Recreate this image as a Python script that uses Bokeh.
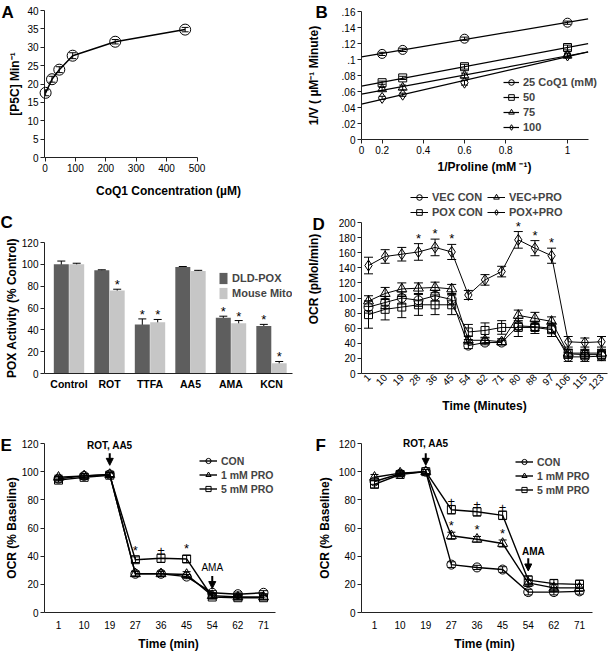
import math
import numpy as np
from bokeh.plotting import figure
from bokeh.layouts import column, row
from bokeh.models import (ColumnDataSource, Whisker, TeeHead, Legend, LegendItem,
                          Arrow, NormalHead, FixedTicker, Range1d)
from bokeh.embed import file_html
from bokeh.resources import INLINE
from bokeh.core.properties import value

FONT = "Liberation Sans"

# ---------------- data ----------------
# Panel A
a_conc = [2, 23, 47, 91, 231, 461]
a_rate = [17.6, 21.3, 23.9, 27.7, 31.5, 34.8]
a_err = [0.8, 0.8, 0.8, 0.8, 0.6, 0.6]
a_xticks = [0, 100, 200, 300, 400, 500]
a_yticks = [0, 5, 10, 15, 20, 25, 30, 35, 40]

# Panel B
b_inv_pro = [0.1, 0.2, 0.5, 1.0]
b_names = ["25 CoQ1 (mM)", "50", "75", "100"]
b_25 = [0.107, 0.112, 0.126, 0.146]
b_50 = [0.071, 0.077, 0.091, 0.115]
b_75 = [0.063, 0.065, 0.080, 0.105]
b_100 = [0.052, 0.056, 0.071, 0.105]
b_err_25 = [0.002, 0.002, 0.002, 0.002]
b_err_50 = [0.002, 0.002, 0.003, 0.003]
b_err_75 = [0.002, 0.003, 0.003, 0.003]
b_err_100 = [0.002, 0.002, 0.003, 0.002]
b_xtick_pos = [0, 0.1, 0.3, 0.5, 0.7, 1.0]
b_xtick_lab = ["0", "0.2", "0.4", "0.6", "0.8", "1"]
b_ytick_pos = [0, 0.02, 0.04, 0.06, 0.08, 0.10, 0.12, 0.14, 0.16]
b_ytick_lab = ["0", ".02", ".04", ".06", ".08", ".1", ".12", ".14", ".16"]

# Panel C
c_cats = ["Control", "ROT", "TTFA", "AA5", "AMA", "KCN"]
c_dld = [100, 94.5, 45, 97.5, 51, 43.5]
c_dld_err = [3, 0.5, 5, 0.5, 1.5, 1.5]
c_dld_sig = ["", "", "*", "", "*", "*"]
c_mito = [100, 76, 47, 94, 46, 9.5]
c_mito_err = [1, 1.2, 2.5, 0.5, 2.5, 1.5]
c_mito_sig = ["", "*", "*", "", "*", "*"]
c_yticks = [0, 20, 40, 60, 80, 100, 120]

# Panel D
d_times = ["1", "10", "19", "28", "36", "45", "54", "62", "71", "80", "88", "97", "106", "115", "123"]
d_vec_con = [88, 94, 100, 97, 103, 98, 37, 41, 41, 63, 62, 60, 22, 22, 23]
d_vec_con_err = [8, 8, 8, 8, 7, 7, 4, 3, 3, 5, 5, 6, 6, 6, 6]
d_vec_pro = [96, 106, 112, 113, 114, 112, 44, 44, 42, 77, 73, 69, 27, 27, 27]
d_vec_pro_err = [7, 8, 8, 7, 7, 6, 5, 4, 4, 7, 8, 6, 5, 5, 5]
d_pox_con = [78, 85, 88, 91, 91, 91, 55, 57, 61, 61, 61, 58, 26, 25, 25]
d_pox_con_err = [18, 14, 14, 14, 13, 13, 10, 10, 9, 12, 8, 9, 6, 6, 6]
d_pox_pro = [143, 155, 158, 161, 167, 161, 104, 124, 135, 177, 166, 156, 42, 41, 42]
d_pox_pro_err = [11, 9, 9, 11, 11, 10, 6, 7, 7, 11, 10, 10, 7, 6, 7]
d_sig = ["", "", "", "*", "*", "*", "", "", "", "*", "*", "*", "", "", ""]
d_yticks = [0, 20, 40, 60, 80, 100, 120, 140, 160, 180, 200]

# Panel E
e_times = ["1", "10", "19", "27", "36", "45", "54", "62", "71"]
e_con = [95, 97, 98, 27.5, 27.5, 25.5, 14, 13, 14]
e_con_err = [1.5, 1.5, 1.5, 1.5, 1.5, 1.5, 1.5, 1.5, 1.5]
e_1mm = [96, 97, 98, 27.5, 27.5, 27, 12, 11, 11]
e_1mm_err = [1.5, 1.5, 1.5, 2, 2, 2, 1.5, 1.5, 1.5]
e_5mm = [94, 96, 97.5, 37.5, 38.5, 38, 11, 10.5, 10.5]
e_5mm_err = [1.5, 1.5, 1.5, 2, 3, 2.5, 1.5, 1.5, 1.5]
e_sig = ["", "", "", "*", "+", "*", "", "", ""]

# Panel F
f_times = ["1", "10", "19", "27", "36", "45", "54", "62", "71"]
f_con = [93, 98.5, 100, 34, 32, 30.5, 14.5, 14.5, 15]
f_con_err = [2, 1.5, 1.5, 2, 1.5, 2, 2, 2, 2]
f_1mm = [96, 99, 100, 54.5, 52, 49, 21, 17.5, 17.5]
f_1mm_err = [2, 1.5, 1.5, 2.5, 2, 2.5, 2.5, 2.5, 2.5]
f_5mm = [91, 98, 100, 73, 71.5, 69, 23, 20.5, 20]
f_5mm_err = [2.5, 1.5, 1.5, 3, 3, 3, 3, 3, 3]
f_sig_1mm = ["", "", "", "*", "*", "*", "", "", ""]
f_sig_5mm = ["", "", "", "+", "+", "+", "", "", ""]
ef_yticks = [0, 20, 40, 60, 80, 100, 120]


# ---------------- helpers ----------------
def mk(w, h, lb, rb, tb, bb, xr, yr):
    p = figure(width=w, height=h, x_range=xr, y_range=yr, output_backend="svg",
               toolbar_location=None, min_border_left=lb, min_border_right=rb,
               min_border_top=tb, min_border_bottom=bb)
    p.outline_line_color = None
    p.grid.visible = False
    p.background_fill_color = "white"
    p.border_fill_color = "white"
    for ax in list(p.xaxis) + list(p.yaxis):
        ax.axis_line_color = "#222222"
        ax.major_tick_line_color = "#222222"
        ax.minor_tick_line_color = None
        ax.major_tick_out = 4
        ax.major_tick_in = 0
        ax.major_label_text_font = FONT
        ax.major_label_text_font_size = "10px"
        ax.major_label_text_color = "black"
        ax.major_label_standoff = 2
        ax.axis_label_text_font = FONT
        ax.axis_label_text_font_style = "bold"
        ax.axis_label_text_font_size = "12px"
        ax.axis_label_text_color = "black"
        ax.axis_label_standoff = 3
    p._geo = (lb, tb, w - lb - rb, h - tb - bb)
    return p


def to_data(p, fx, fy):
    lb, tb, fw, fh = p._geo
    xr, yr = p.x_range, p.y_range
    x = xr.start + (fx - lb) * (xr.end - xr.start) / fw
    y = yr.end - (fy - tb) * (yr.end - yr.start) / fh
    return x, y


def free_text(p, x, y, t, size="10px", bold=True, align="center", baseline="middle"):
    p.text([x], [y], text=[t], text_font=value(FONT), text_font_size=size,
           text_font_style="bold" if bold else "normal", text_align=align,
           text_baseline=baseline, text_color="black", level="overlay")


def letter(p, ch, fx, fy):
    x, y = to_data(p, fx, fy)
    free_text(p, x, y, ch, size="17px", align="left", baseline="top")


def whisk(p, xs, ys, errs, cap=8, lw=1):
    src = ColumnDataSource(dict(x=xs, lo=[y - e for y, e in zip(ys, errs)],
                                hi=[y + e for y, e in zip(ys, errs)]))
    p.add_layout(Whisker(source=src, base="x", upper="hi", lower="lo", line_color="black",
                         line_width=lw,
                         upper_head=TeeHead(size=cap, line_color="black", line_width=lw),
                         lower_head=TeeHead(size=cap, line_color="black", line_width=lw)))


def series(p, xs, ys, errs, marker, size, lw=1.2, cap=8):
    whisk(p, xs, ys, errs, cap=cap)
    l = p.line(xs, ys, line_color="black", line_width=lw)
    m = p.scatter(xs, ys, marker=marker, size=size, fill_color=None,
                  line_color="black", line_width=1)
    return [l, m]


def marks(p, xs, tops, labels, size="13px", yoff=0):
    xx, yy, tt = [], [], []
    for x, t, s in zip(xs, tops, labels):
        if s:
            xx.append(x); yy.append(t); tt.append(s)
    p.text(xx, yy, text=tt, text_font=value(FONT), text_font_size=size,
           text_align="center", text_baseline="bottom", text_color="black",
           y_offset=yoff, level="overlay")


def legend(items, top_from_frame_top, fx, p, gw=20, gh=14, spacing=1, standoff=4,
           size="11px"):
    lb, tb, fw, fh = p._geo
    n = len(items)
    height = n * gh + (n - 1) * spacing
    lg = Legend(items=items, location=(fx, fh - top_from_frame_top - height),
                orientation="vertical")
    lg.border_line_color = None
    lg.background_fill_alpha = 0
    lg.padding = 0
    lg.margin = 0
    lg.spacing = int(spacing)
    lg.glyph_width = gw
    lg.glyph_height = gh
    lg.label_height = gh
    lg.label_standoff = standoff
    lg.label_text_font = FONT
    lg.label_text_font_size = size
    lg.label_text_font_style = "bold"
    p.add_layout(lg)


def arrow(p, x, y0, y1):
    p.add_layout(Arrow(end=NormalHead(size=7, fill_color="black", line_color="black"),
                       x_start=x, y_start=y0, x_end=x, y_end=y1, line_width=2,
                       line_color="black"))


# layout geometry (left column 300 px, right column 310 px)
LB_L, RB_L = 44, 8
LB_R, RB_R = 61, 3

# ---------------- Panel A ----------------
a_ppu = (196 - 44) / 500
a_x0 = -(44.5 - LB_L) / a_ppu
pA = mk(300, 200, LB_L, RB_L, 10, 42,
        Range1d(a_x0, a_x0 + (300 - LB_L - RB_L) / a_ppu), Range1d(0, 40))
pA.xaxis.ticker = FixedTicker(ticks=a_xticks)
pA.xaxis.bounds = (a_x0, a_xticks[-1])
pA.yaxis.ticker = FixedTicker(ticks=a_yticks)
pA.xaxis.axis_label = "CoQ1 Concentration (µM)"
pA.yaxis.axis_label = "[P5C] Min⁻¹"
pA.xaxis.axis_label_standoff = 9
pA.yaxis.axis_label_standoff = 2
whisk(pA, a_conc, a_rate, a_err, cap=7)
pA.line(a_conc, a_rate, line_color="black", line_width=1.5)
pA.scatter(a_conc, a_rate, marker="circle", size=11, fill_color=None, line_color="black",
           level="overlay")
letter(pA, "A", 1, 2)

# ---------------- Panel B ----------------
b_ppu = 567 - 361
pB = mk(310, 178, LB_R, RB_R, 11, 39,
        Range1d(0, (310 - LB_R - RB_R) / b_ppu), Range1d(0, 0.16))
pB.xaxis.ticker = FixedTicker(ticks=b_xtick_pos)
pB.xaxis.major_label_overrides = dict(zip(b_xtick_pos, b_xtick_lab))
pB.xaxis.bounds = (0, 1.1)
pB.yaxis.ticker = FixedTicker(ticks=b_ytick_pos)
pB.yaxis.major_label_overrides = dict(zip(b_ytick_pos, b_ytick_lab))
pB.xaxis.axis_label = "1/Proline (mM ⁻¹)"
pB.yaxis.axis_label = "1/V ( µM⁻¹ Minute)"
pB.yaxis.axis_label_standoff = 18
b_items = []
x_fit = [0, 1.1]
for name, ys, es, mk_ in zip(b_names, [b_25, b_50, b_75, b_100],
                             [b_err_25, b_err_50, b_err_75, b_err_100],
                             ["circle", "square", "triangle", "diamond"]):
    coef = np.polyfit(b_inv_pro, ys, 1)
    lr = pB.line(x_fit, list(np.polyval(coef, x_fit)), line_color="black", line_width=1.2)
    whisk(pB, b_inv_pro, ys, es, cap=7)
    sz = {"circle": 9, "square": 8, "triangle": 9, "diamond": 11}[mk_]
    mr = pB.scatter(b_inv_pro, ys, marker=mk_, size=sz, fill_color=None, line_color="black")
    b_items.append(LegendItem(label=name, renderers=[lr, mr]))
legend(b_items, 64, 142, pB, gw=16, gh=14, spacing=1)
letter(pB, "B", 15, 2)

# ---------------- Panel C ----------------
c_ppu = 40.5
c_x0 = -(68.5 - LB_L) / c_ppu
pC = mk(300, 220, LB_L, RB_L, 42, 47,
        Range1d(c_x0, c_x0 + (300 - LB_L - RB_L) / c_ppu), Range1d(0, 120))
c_x = list(range(len(c_cats)))
pC.xaxis.ticker = FixedTicker(ticks=c_x)
pC.xaxis.major_label_overrides = dict(zip(c_x, c_cats))
pC.xaxis.major_tick_out = 0
pC.xaxis.major_label_text_font_style = "bold"
pC.xaxis.major_label_text_font_size = "10.5px"
pC.xaxis.major_label_standoff = 4
pC.yaxis.ticker = FixedTicker(ticks=c_yticks)
pC.yaxis.axis_label = "POX Activity (% Control)"
pC.yaxis.axis_label_standoff = 0
xd = [i - 0.19 for i in c_x]
xm = [i + 0.19 for i in c_x]
rd = pC.vbar(x=xd, top=c_dld, width=0.37, fill_color="#5e5e5e", line_color=None)
rm = pC.vbar(x=xm, top=c_mito, width=0.37, fill_color="#c6c6c6", line_color=None)
whisk(pC, xd, c_dld, c_dld_err, cap=8)
whisk(pC, xm, c_mito, c_mito_err, cap=8)
marks(pC, xd, [v + e for v, e in zip(c_dld, c_dld_err)], c_dld_sig, yoff=3)
marks(pC, xm, [v + e for v, e in zip(c_mito, c_mito_err)], c_mito_sig, yoff=3)
legend([LegendItem(label="DLD-POX", renderers=[rd]),
        LegendItem(label="Mouse Mito", renderers=[rm])], 29, 218 - LB_L, pC, gw=10, gh=14,
       spacing=1)
letter(pC, "C", 0, 12)

# ---------------- Panel D ----------------
d_ppu = (601 - 368) / 14
d_x0 = -(368 - 361) / d_ppu
d_yppu = (373 - 222) / 200
d_top = 6
pD = mk(310, 242, LB_R, RB_R, d_top, 47,
        Range1d(d_x0, d_x0 + (310 - LB_R - RB_R) / d_ppu),
        Range1d(0, 200 + ((222 - 178) - d_top) / d_yppu))
d_x = list(range(len(d_times)))
pD.xaxis.ticker = FixedTicker(ticks=d_x)
pD.xaxis.major_label_overrides = dict(zip(d_x, d_times))
pD.xaxis.major_label_orientation = math.pi / 4
pD.xaxis.major_tick_out = 0
pD.yaxis.ticker = FixedTicker(ticks=d_yticks)
pD.yaxis.bounds = (0, 200)
pD.xaxis.axis_label = "Time (Minutes)"
pD.yaxis.axis_label = "OCR (pMol/min)"
pD.yaxis.axis_label_standoff = 15
r_vc = series(pD, d_x, d_vec_con, d_vec_con_err, "circle", 9, lw=1, cap=9)
r_vp = series(pD, d_x, d_vec_pro, d_vec_pro_err, "triangle", 10, lw=1, cap=9)
r_pc = series(pD, d_x, d_pox_con, d_pox_con_err, "square", 8, lw=1, cap=9)
r_pp = series(pD, d_x, d_pox_pro, d_pox_pro_err, "diamond", 11, lw=1, cap=9)
marks(pD, d_x, [v + e for v, e in zip(d_pox_pro, d_pox_pro_err)], d_sig, yoff=2)
legend([LegendItem(label="VEC CON", renderers=r_vc),
        LegendItem(label="POX CON", renderers=r_pc)], 6, 49, pD, gw=18, gh=14, spacing=1)
legend([LegendItem(label="VEC+PRO", renderers=r_vp),
        LegendItem(label="POX+PRO", renderers=r_pp)], 6, 126, pD, gw=18, gh=14, spacing=1)
letter(pD, "D", 12, 36)

# ---------------- Panel E ----------------
e_ppu = (263 - 58) / 8
e_x0 = -(58 - LB_L) / e_ppu
pE = mk(300, 233, LB_L, RB_L, 23, 39,
        Range1d(e_x0, e_x0 + (300 - LB_L - RB_L) / e_ppu), Range1d(0, 120))
e_x = list(range(len(e_times)))
pE.xaxis.ticker = FixedTicker(ticks=e_x)
pE.xaxis.major_label_overrides = dict(zip(e_x, e_times))
pE.xaxis.bounds = (e_x0, 8.47)
pE.xaxis.major_tick_out = 0
pE.xaxis.major_label_standoff = 8
pE.xaxis.axis_label_standoff = 5
pE.yaxis.ticker = FixedTicker(ticks=ef_yticks)
pE.yaxis.axis_label_standoff = 0
pE.xaxis.axis_label = "Time (min)"
pE.yaxis.axis_label = "OCR (% Baseline)"
r_ec = series(pE, e_x, e_con, e_con_err, "circle", 9, lw=1.4)
r_e1 = series(pE, e_x, e_1mm, e_1mm_err, "triangle", 10, lw=1.4)
r_e5 = series(pE, e_x, e_5mm, e_5mm_err, "square", 8, lw=1.4)
marks(pE, e_x, [v + e for v, e in zip(e_5mm, e_5mm_err)], e_sig, yoff=1)
legend([LegendItem(label="CON", renderers=r_ec),
        LegendItem(label="1 mM PRO", renderers=r_e1),
        LegendItem(label="5 mM PRO", renderers=r_e5)], 13, 199 - LB_L, pE, gw=18, gh=13,
       spacing=1, size="10.5px")
free_text(pE, 2, 118.6, "ROT, AA5")
arrow(pE, 2, 113, 104.5)
free_text(pE, 6, 32.3, "AMA", bold=False)
arrow(pE, 6, 26, 17)
letter(pE, "E", 0, 15)

# ---------------- Panel F ----------------
f_ppu = (579 - 374) / 8
f_x0 = -(374 - 361) / f_ppu
pF = mk(310, 233, LB_R, RB_R, 23, 39,
        Range1d(f_x0, f_x0 + (310 - LB_R - RB_R) / f_ppu), Range1d(0, 120))
f_x = list(range(len(f_times)))
pF.xaxis.ticker = FixedTicker(ticks=f_x)
pF.xaxis.major_label_overrides = dict(zip(f_x, f_times))
pF.xaxis.bounds = (f_x0, 8.5)
pF.xaxis.major_tick_out = 0
pF.xaxis.major_label_standoff = 8
pF.xaxis.axis_label_standoff = 5
pF.yaxis.ticker = FixedTicker(ticks=ef_yticks)
pF.yaxis.axis_label_standoff = 4
pF.xaxis.axis_label = "Time (min)"
pF.yaxis.axis_label = "OCR (% Baseline)"
r_fc = series(pF, f_x, f_con, f_con_err, "circle", 9, lw=1.4)
r_f1 = series(pF, f_x, f_1mm, f_1mm_err, "triangle", 10, lw=1.4)
r_f5 = series(pF, f_x, f_5mm, f_5mm_err, "square", 8, lw=1.4)
marks(pF, f_x, [v + e for v, e in zip(f_1mm, f_1mm_err)], f_sig_1mm, yoff=1)
marks(pF, f_x, [v + e for v, e in zip(f_5mm, f_5mm_err)], f_sig_5mm, yoff=1)
legend([LegendItem(label="CON", renderers=r_fc),
        LegendItem(label="1 mM PRO", renderers=r_f1),
        LegendItem(label="5 mM PRO", renderers=r_f5)], 14, 154, pF, gw=18, gh=13,
       spacing=1, size="10.5px")
free_text(pF, 2, 120, "ROT, AA5")
arrow(pF, 2, 113, 104.5)
free_text(pF, 6.2, 43.5, "AMA")
arrow(pF, 6, 38.6, 29.5)
letter(pF, "F", 15, 15)

layout = row(column(pA, pC, pE), column(pB, pD, pF))
open("out.html", "w").write(file_html(layout, INLINE))
